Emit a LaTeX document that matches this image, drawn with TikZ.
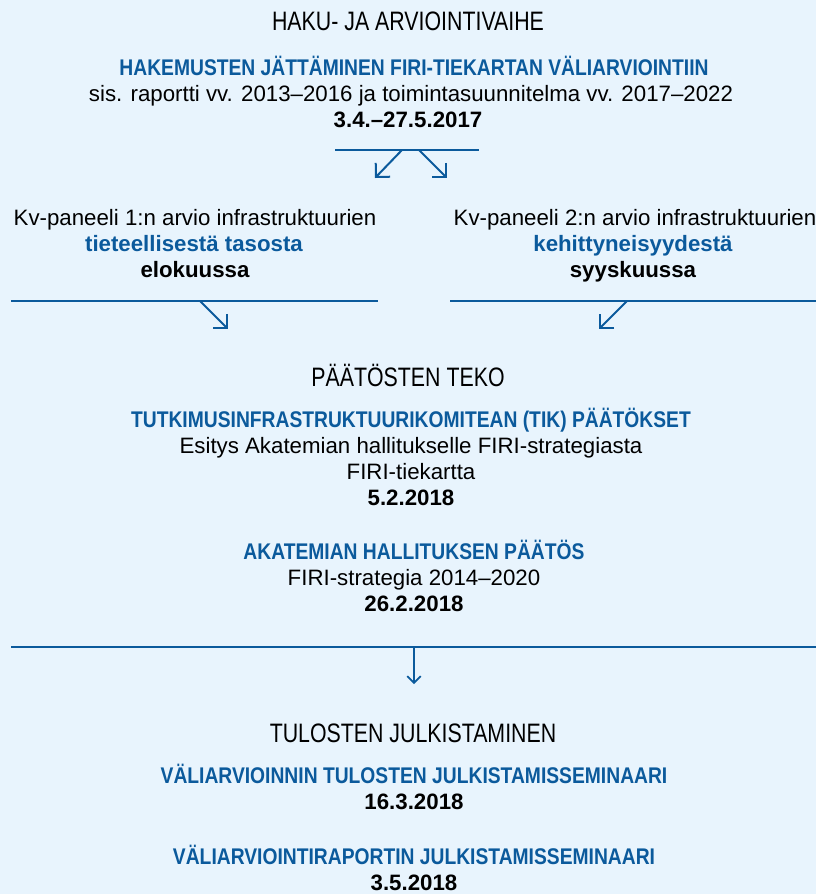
\documentclass[tikz,border=0pt]{standalone}
\usepackage{fontspec}
\setmainfont{Liberation Sans}
\newfontfamily\capsfont{Liberation Sans}[FakeStretch=0.85]
\newfontfamily\headfont{Liberation Sans}[FakeStretch=0.8]
\usetikzlibrary{arrows.meta}
\definecolor{firiblue}{HTML}{0B5A9C}
\definecolor{firibg}{HTML}{E8F4FD}
\tikzset{
  phase/.style={anchor=base,font=\headfont\fontsize{20}{24}\selectfont},
  title/.style={anchor=base,font=\capsfont\fontsize{17}{20}\selectfont\bfseries,text=firiblue},
  topic/.style={anchor=base,font=\fontsize{16.7}{20}\selectfont\bfseries,text=firiblue},
  txt/.style={anchor=base,font=\fontsize{16.7}{20}\selectfont},
  date/.style={anchor=base,font=\fontsize{16.7}{20}\selectfont\bfseries},
  rule/.style={firiblue,line width=1.6pt},
  flow/.style={firiblue,line width=1.5pt,-{Straight Barb[length=7.5pt,width=15pt]}}
}
\begin{document}
\begin{tikzpicture}[x=0.75pt,y=-0.75pt]
  \fill[firibg] (0,0) rectangle (816,894);
  \useasboundingbox (0,0) rectangle (816,894);
  % haku- ja arviointivaihe
  \node[phase] (haku) at (408,30) {HAKU- JA ARVIOINTIVAIHE};
  \node[title] (hakemus) at (414,75) {HAKEMUSTEN JÄTTÄMINEN FIRI-TIEKARTAN VÄLIARVIOINTIIN};
  \node[txt] (sis) at (411,101) {sis. raportti vv. 2013–2016 ja toimintasuunnitelma vv. 2017–2022};
  \node[date] (hakupvm) at (408,127) {3.4.–27.5.2017};
  \draw[rule] (335,150) coordinate (r1a) -- (479,150) coordinate (r1b);
  \coordinate (s1) at (402,150);
  \coordinate (s2) at (419,150);
  \draw[flow] (s1) -- (375,178);
  \draw[flow] (s2) -- (447,178);
  % paneelit
  \node[txt] (kv1) at (195,225) {Kv-paneeli 1:n arvio infrastruktuurien};
  \node[topic] (taso) at (194,251) {tieteellisestä tasosta};
  \node[date] (elo) at (195,277) {elokuussa};
  \node[txt] (kv2) at (635,225) {Kv-paneeli 2:n arvio infrastruktuurien};
  \node[topic] (kehit) at (633,251) {kehittyneisyydestä};
  \node[date] (syys) at (633,277) {syyskuussa};
  \draw[rule] (11,301) coordinate (r2a) -- (378,301) coordinate (r2b);
  \draw[rule] (450,301) coordinate (r3a) -- (816,301) coordinate (r3b);
  \coordinate (s3) at (200,301);
  \coordinate (s4) at (627,301);
  \draw[flow] (s3) -- (228,329);
  \draw[flow] (s4) -- (599,329);
  % päätösten teko
  \node[phase] (teko) at (408,386) {PÄÄTÖSTEN TEKO};
  \node[title] (tik) at (411,427) {TUTKIMUSINFRASTRUKTUURIKOMITEAN (TIK) PÄÄTÖKSET};
  \node[txt] (esitys) at (411,453) {Esitys Akatemian hallitukselle FIRI-strategiasta};
  \node[txt] (tiek) at (411,479) {FIRI-tiekartta};
  \node[date] (tikpvm) at (411,505) {5.2.2018};
  \node[title] (akat) at (414,559) {AKATEMIAN HALLITUKSEN PÄÄTÖS};
  \node[txt] (strat) at (414,585) {FIRI-strategia 2014–2020};
  \node[date] (akatpvm) at (414,611) {26.2.2018};
  \draw[rule] (11,647) coordinate (r4a) -- (816,647) coordinate (r4b);
  \coordinate (s5) at (414,647);
  \draw[flow,line width=1.3pt,-{Straight Barb[length=5pt,width=10pt]}] (s5) -- (414,684);
  % tulosten julkistaminen
  \node[phase] (tulos) at (413,742) {TULOSTEN JULKISTAMINEN};
  \node[title] (sem1) at (414,783) {VÄLIARVIOINNIN TULOSTEN JULKISTAMISSEMINAARI};
  \node[date] (sem1pvm) at (414,809) {16.3.2018};
  \node[title] (sem2) at (414,864) {VÄLIARVIOINTIRAPORTIN JULKISTAMISSEMINAARI};
  \node[date] (sem2pvm) at (414,890) {3.5.2018};
\end{tikzpicture}
\end{document}
